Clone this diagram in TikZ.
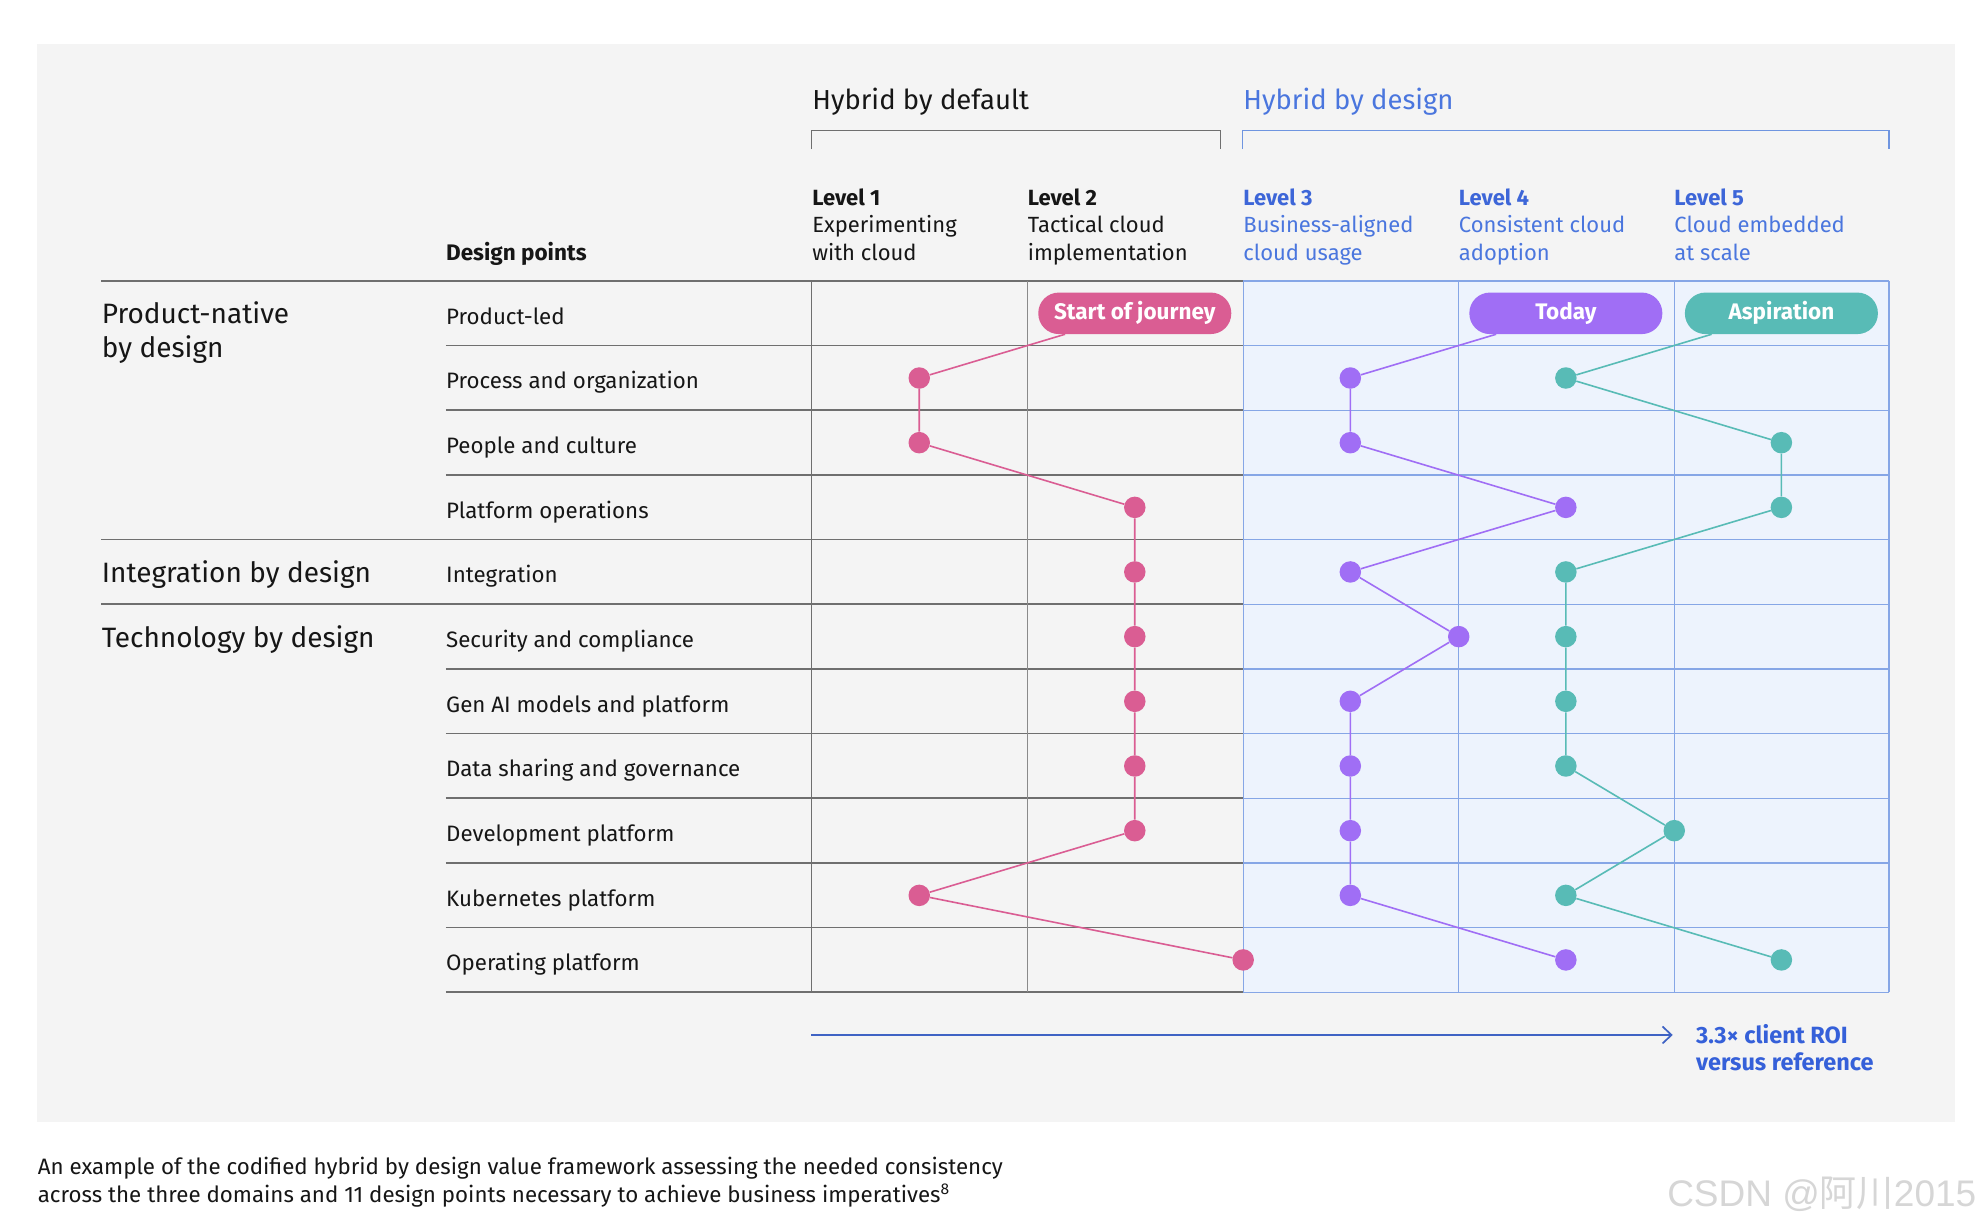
\documentclass[tikz,border=0pt]{standalone}
\usepackage{fontspec}
\setmainfont{Fira Sans}
\newfontfamily\cjkfont{Noto Sans CJK SC}
\newfontfamily\wmfont{Liberation Sans}
\usetikzlibrary{arrows.meta}
\definecolor{bggray}{HTML}{F4F4F4}
\definecolor{gline}{HTML}{6F6F6F}
\definecolor{gthin}{HTML}{8A8A8A}
\definecolor{bline}{HTML}{86A6E6}
\definecolor{bfill}{HTML}{EDF3FD}
\definecolor{bbrack}{HTML}{6F95E0}
\definecolor{btext}{HTML}{3D66D8}
\definecolor{btextl}{HTML}{4A76DE}
\definecolor{roiblue}{HTML}{3560D9}
\definecolor{arrblue}{HTML}{3F63C4}
\definecolor{cpink}{HTML}{DA5D93}
\definecolor{cpurple}{HTML}{A06EF5}
\definecolor{cteal}{HTML}{58BBB6}
\definecolor{ink}{HTML}{161616}
\definecolor{wm}{HTML}{D6D6D6}
\newcommand\fsz[2]{\fontsize{#1}{#2}\selectfont}
\begin{document}
\begin{tikzpicture}[x=1.2634pt,y=-1.2634pt,
  txt/.style={anchor=base west,inner sep=0pt,text=ink},
  dplabel/.style={txt,font=\fsz{22.3pt}{26pt}},
  domlabel/.style={txt,align=left,font=\fsz{28pt}{33.4pt}},
  hdr/.style={txt,font=\fsz{27.5pt}{33pt}},
  lvl/.style={txt,align=left,font=\fsz{22pt}{27.4pt}},
  pill/.style={rounded corners=20.5pt,minimum width=193pt,minimum height=41.5pt,inner sep=0pt,text=white,font=\fsz{22.5pt}{26pt}\bfseries},
  mdot/.style={circle,inner sep=0pt,minimum size=21.5pt},
  gl/.style={draw=gline,line width=1.7pt},
  gt/.style={draw=gthin,line width=1pt},
  bl/.style={draw=bline,line width=1.2pt},
  conn/.style={line width=1.6pt},
]
\useasboundingbox (0,0) rectangle (1568,972);
\fill[white] (0,0) rectangle (1568,972);
\fill[bggray] (29.6,35) rectangle (1547.4,888.3);

% headers
\node[hdr] (hdef) at (642.8,86.5) {Hybrid by default};
\node[hdr,text=btextl] (hdes) at (984,86.5) {Hybrid by design};
\draw[draw=gline,line width=1.5pt] (642.3,118) |- (966.2,103.4) -- (966.2,118);
\draw[draw=bbrack,line width=1.5pt] (983.5,118) |- (1495.2,103.4) -- (1495.2,118);

% level labels (anchored at the baseline of their last line)
\node[lvl] (lv1) at (642.8,205.8) {\textbf{Level 1}\\Experimenting\\with cloud};
\node[lvl] (lv2) at (813.4,205.8) {\textbf{Level 2}\\Tactical cloud\\implementation};
\node[lvl,text=btextl] (lv3) at (984,205.8) {\textcolor{btext}{\textbf{Level 3}}\\Business-aligned\\cloud usage};
\node[lvl,text=btextl] (lv4) at (1154.6,205.8) {\textcolor{btext}{\textbf{Level 4}}\\Consistent cloud\\adoption};
\node[lvl,text=btextl] (lv5) at (1325.2,205.8) {\textcolor{btext}{\textbf{Level 5}}\\Cloud embedded\\at scale};
\node[txt,font=\fsz{22.5pt}{26pt}\bfseries] (dpt) at (353,205.8) {Design points};

% grid
\fill[bfill] (984,222.4) rectangle (1495.2,785.4);
\draw[gl] (80,222.4) -- (984,222.4);
\foreach \i in {1,2,3,6,7,8,9,10,11} \draw[gl] (353,{222.4+51.18*\i}) -- (984,{222.4+51.18*\i});
\foreach \i in {4,5} \draw[gl] (80,{222.4+51.18*\i}) -- (984,{222.4+51.18*\i});
\draw[gl] (642.3,222.4) -- (642.3,785.4);
\draw[gt] (813,222.4) -- (813,785.4);
\foreach \i in {0,...,11} \draw[bl] (984,{222.4+51.18*\i}) -- (1495.2,{222.4+51.18*\i});
\foreach \x in {984,1154.6,1325.2,1495.2} \draw[bl] (\x,222.4) -- (\x,785.4);

% domain labels
\node[domlabel] (dom1) at (80.5,282.8) {Product-native\\by design};
\node[domlabel] (dom2) at (80.5,461.3) {Integration by design};
\node[domlabel] (dom3) at (80.5,512.5) {Technology by design};

% design point labels
\foreach \t [count=\i] in {Product-led,Process and organization,People and culture,Platform operations,Integration,Security and compliance,Gen AI models and platform,Data sharing and governance,Development platform,Kubernetes platform,Operating platform}
  \node[dplabel] (dp\i) at (353,{222.4+51.18*(\i-0.5)+8.6}) {\t};

% pills
\node[pill,fill=cpink] (pillP) at (898.2,248) {Start of journey};
\node[pill,fill=cpurple] (pillU) at (1239.4,248) {Today};
\node[pill,fill=cteal] (pillT) at (1410,248) {Aspiration};

% dots
\foreach \n/\x/\y in {p2/727.6/299.2,p3/727.6/350.4,p4/898.2/401.6,p5/898.2/452.7,p6/898.2/503.9,p7/898.2/555.1,p8/898.2/606.3,p9/898.2/657.5,p10/727.6/708.7,p11/984.0/759.8}
  \node[mdot,fill=cpink] (\n) at (\x,\y) {};
\foreach \n/\x/\y in {u2/1068.8/299.2,u3/1068.8/350.4,u4/1239.4/401.6,u5/1068.8/452.7,u6/1154.6/503.9,u7/1068.8/555.1,u8/1068.8/606.3,u9/1068.8/657.5,u10/1068.8/708.7,u11/1239.4/759.8}
  \node[mdot,fill=cpurple] (\n) at (\x,\y) {};
\foreach \n/\x/\y in {t2/1239.4/299.2,t3/1410/350.4,t4/1410/401.6,t5/1239.4/452.7,t6/1239.4/503.9,t7/1239.4/555.1,t8/1239.4/606.3,t9/1325.2/657.5,t10/1239.4/708.7,t11/1410/759.8}
  \node[mdot,fill=cteal] (\n) at (\x,\y) {};

% connectors
\draw[conn,cpink] (pillP) -- (p2) -- (p3) -- (p4) -- (p5) -- (p6) -- (p7) -- (p8) -- (p9) -- (p10) -- (p11);
\draw[conn,cpurple] (pillU) -- (u2) -- (u3) -- (u4) -- (u5) -- (u6) -- (u7) -- (u8) -- (u9) -- (u10) -- (u11);
\draw[conn,cteal] (pillT) -- (t2) -- (t3) -- (t4) -- (t5) -- (t6) -- (t7) -- (t8) -- (t9) -- (t10) -- (t11);

% ROI arrow
\coordinate (arrS) at (642.3,819.2);
\coordinate (arrE) at (1324,819.2);
\node[txt,align=left,text=roiblue,font=\fsz{23.5pt}{27pt}\bfseries] (roi) at (1342.4,847) {3.3× client ROI\\versus reference};
\draw[draw=arrblue,line width=1.7pt,-{Straight Barb[length=9pt,width=17pt,line width=1.7pt]}] (arrS) -- (arrE);

% caption
\node[txt,align=left,font=\fsz{22.3pt}{27.5pt}] (cap) at (29.8,951.5) {An example of the codified hybrid by design value framework assessing the needed consistency\\across the three domains and 11 design points necessary to achieve business imperatives\textsuperscript{8}};

% watermark
\node[txt,text=wm,font=\fsz{37pt}{42pt}] (wmk) at (1319.5,955) {\wmfont CSDN @\cjkfont 阿川\wmfont 2015};
\end{tikzpicture}
\end{document}
